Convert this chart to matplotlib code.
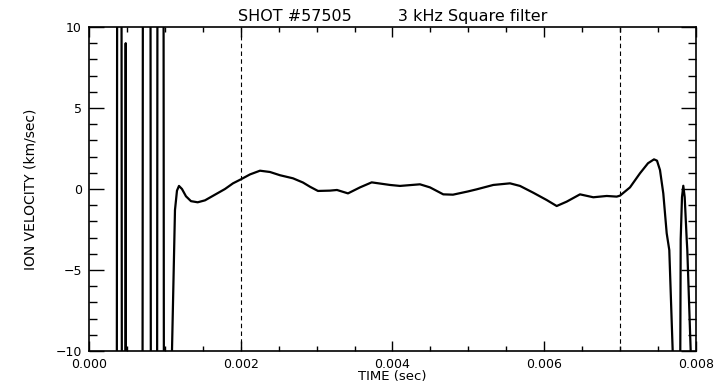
import numpy as np
import matplotlib
matplotlib.use("Agg")
import matplotlib.pyplot as plt
from matplotlib.ticker import MultipleLocator

# time (sec) and ion velocity (km/sec)
time_s = [
    0.0, 0.000362, 0.000376, 0.000424, 0.000438, 0.000478, 0.000484, 0.000490,
    0.000701, 0.000715, 0.000806, 0.000820, 0.000893, 0.000907, 0.000978, 0.000992,
    0.001075, 0.0010939, 0.0011334, 0.0011598, 0.0011862, 0.0012257, 0.0012784,
    0.0013443, 0.0014326, 0.0015288, 0.0016606, 0.0017924, 0.0018979, 0.0020033,
    0.0021219, 0.0022537, 0.0023855, 0.0025173, 0.0026886, 0.0028204, 0.0029127,
    0.0030181, 0.0031763, 0.0032685, 0.0034135, 0.0035717, 0.0037259, 0.0039671,
    0.0040988, 0.0043624, 0.0044942, 0.0046695, 0.0047974, 0.0049951, 0.0051097,
    0.0053285, 0.0055486, 0.0056804, 0.0058557, 0.0060323, 0.0061641, 0.0062959,
    0.0064712, 0.0066465, 0.0068231, 0.0069549, 0.0069984, 0.0071301, 0.0072619,
    0.0073674, 0.0074465, 0.0074860, 0.0075255, 0.0075690, 0.0076138, 0.0076481,
    0.0076929, 0.0077232, 0.0077825, 0.0077931, 0.0077984, 0.0078155, 0.0078327,
    0.0078511, 0.0078775, 0.0078854, 0.0079302, 0.0079605, 0.008,
]
velocity = [
    -40, -40, 40, 40, -40, -40, 9.0, -40,
    -40, 40, 40, -40, -40, 40, 40, -40,
    -40, -10, -1.3, -0.1, 0.19, 0.0, -0.45,
    -0.75, -0.82, -0.7, -0.35, 0.0, 0.35, 0.6,
    0.9, 1.13, 1.05, 0.85, 0.66, 0.4, 0.14,
    -0.12, -0.1, -0.06, -0.27, 0.1, 0.41, 0.25,
    0.19, 0.29, 0.1, -0.33, -0.35, -0.15, -0.02,
    0.25, 0.35, 0.19, -0.23, -0.68, -1.05, -0.78,
    -0.33, -0.51, -0.43, -0.47, -0.41, 0.1, 0.97,
    1.59, 1.83, 1.75, 1.17, -0.27, -2.73, -3.77,
    -10, -40, -40, -10, -3.1, -0.5, 0.2,
    -0.5, -3.1, -3.77, -10, -40, -40,
]
markers_t = [0.002, 0.007]

fig = plt.figure(figsize=(7.17, 3.84), dpi=100)
ax = fig.add_axes([0.1241, 0.0859, 0.8466, 0.8438])

ax.plot(time_s, velocity, color="black", lw=1.6)
for t in markers_t:
    ax.axvline(t, color="black", lw=0.8, ls=(0, (4, 3)))

ax.set_xlim(0, 0.008)
ax.set_ylim(-10, 10)
ax.xaxis.set_major_locator(MultipleLocator(0.002))
ax.xaxis.set_minor_locator(MultipleLocator(0.0005))
ax.yaxis.set_major_locator(MultipleLocator(5))
ax.yaxis.set_minor_locator(MultipleLocator(1))
ax.xaxis.set_major_formatter(plt.FormatStrFormatter("%.3f"))
ax.tick_params(which="both", direction="in", top=True, right=True, width=1, labelsize=9)
ax.tick_params(axis="x", which="major", length=7, pad=5)
ax.tick_params(axis="x", which="minor", length=3.5)
ax.tick_params(axis="y", which="major", length=11, pad=5)
ax.tick_params(axis="y", which="minor", length=6)
for s in ax.spines.values():
    s.set_linewidth(1.2)

ax.set_title("SHOT #57505         3 kHz Square filter", fontsize=11.5, pad=4)
ax.set_xlabel("TIME (sec)", fontsize=9.5, labelpad=-1)
ax.set_ylabel("ION VELOCITY (km/sec)", fontsize=10, labelpad=13)

fig.savefig("out.png", dpi=100)
